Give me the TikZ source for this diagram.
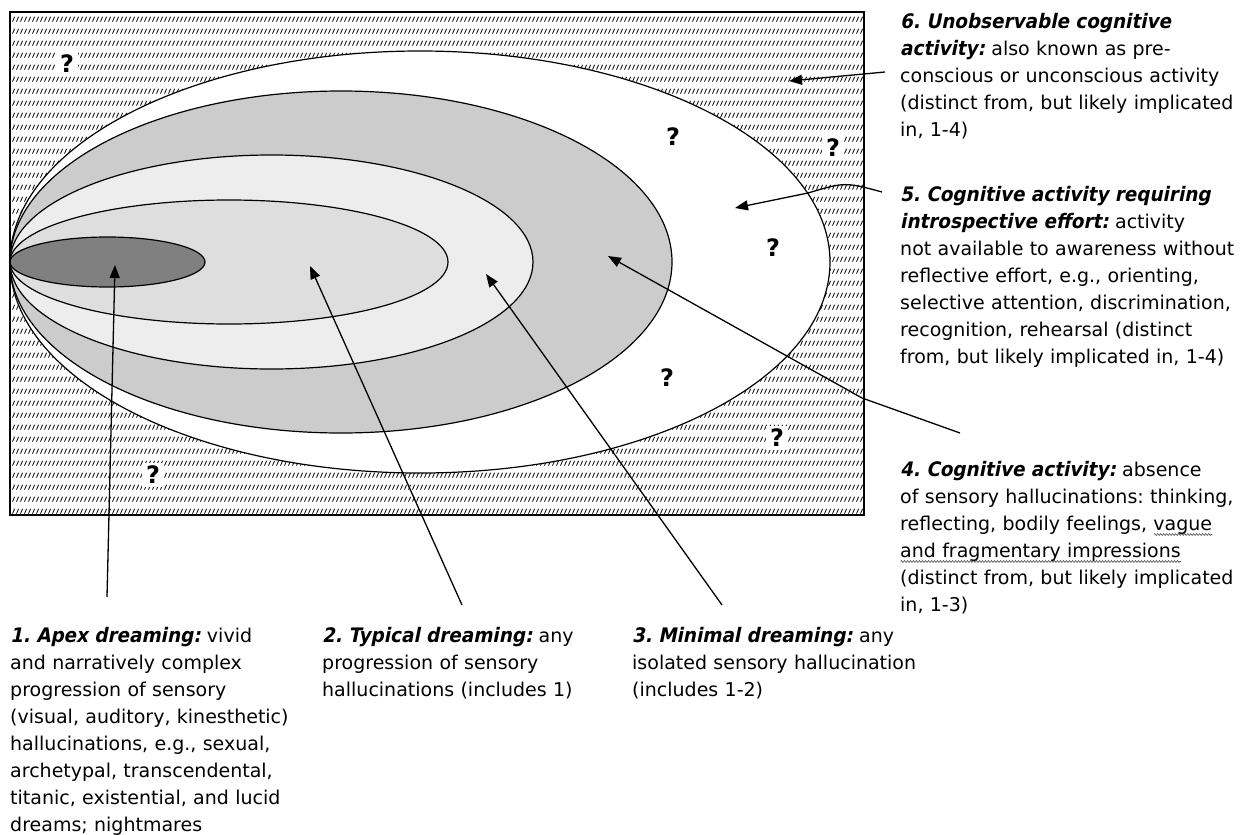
\documentclass[tikz,border=0pt]{standalone}
\usepackage{fontspec}
\setmainfont{DejaVu Sans}
\newfontfamily\headfont{DejaVu Sans}[FakeSlant=0.2, FakeStretch=0.92]
\usetikzlibrary{arrows.meta, patterns.meta, decorations.pathmorphing}

\tikzdeclarepattern{
  name=slashrows,
  type=uncolored,
  bounding box={(0pt,0pt) and (4.3pt,11.8pt)},
  tile size={(4.3pt,11.8pt)},
  code={
    \pgfsetlinewidth{0.9pt}
    \pgfpathmoveto{\pgfpoint{0.6pt}{3.5pt}}
    \pgfpathlineto{\pgfpoint{3.0pt}{8.3pt}}
    \pgfusepath{stroke}
  }
}

\frenchspacing
\newcommand{\hd}[1]{{\headfont\bfseries\fontsize{20}{27}\selectfont #1}}
\newsavebox{\wavybox}
\newcommand{\wavy}[1]{\leavevmode\sbox{\wavybox}{#1}\rlap{\tikz[baseline=0pt,x=1pt,y=1pt]\draw[black!70, line width=0.6pt, decorate, decoration={snake, amplitude=0.9pt, segment length=3pt}] (0,-3.5) -- (\wd\wavybox,-3.5);}\usebox{\wavybox}}

\begin{document}
\begin{tikzpicture}[x=1pt, y=-1pt,
  ring/.style={line width=1.2pt, draw=black},
  conn/.style={line width=1.3pt, -{Triangle[length=13pt,width=10pt]}},
  qmark/.style={font=\fontsize{24}{24}\selectfont\bfseries, inner sep=1pt},
  qhatch/.style={qmark, fill=white, inner xsep=4pt, inner ysep=3pt},
  txt/.style={anchor=north west, inner sep=0pt, align=left, text width=360pt,
              font=\fontsize{19}{27}\selectfont\frenchspacing}
]
\useasboundingbox (0,0) rectangle (1243,835);
\fill[white] (0,0) rectangle (1243,835);

% hatched frame
\path[pattern=slashrows, pattern color=black] (10,12) rectangle (864,515);

% nested ellipses
\draw[ring, fill=white]    (420,262)   ellipse [x radius=410pt,  y radius=211pt];
\draw[ring, fill=black!20] (341,262)   ellipse [x radius=331pt,  y radius=171pt];
\draw[ring, fill=black!7]  (271.5,262) ellipse [x radius=261.5pt, y radius=107pt];
\draw[ring, fill=black!13] (229,262)   ellipse [x radius=219pt,  y radius=62pt];
\draw[ring, fill=black!50] (107.5,262) ellipse [x radius=97.5pt, y radius=25pt];

\draw[line width=2.5pt] (10,12) rectangle (864,515);

% question marks
\node[qhatch] (q1) at (67,64) {?};
\node[qmark]  (q2) at (673,137) {?};
\node[qhatch] (q3) at (833,148) {?};
\node[qmark]  (q4) at (773,248) {?};
\node[qmark]  (q5) at (667,378) {?};
\node[qhatch] (q6) at (777,438) {?};
\node[qhatch] (q7) at (153,475) {?};

% text blocks
\node[txt] (t6) at (900,13.6) {\hd{6. Unobservable cognitive}\\
\hd{activity:} also known as pre-\\
conscious or unconscious activity\\
(distinct from, but likely implicated\\
in, 1-4)};

\node[txt] (t5) at (900,186.6) {\hd{5. Cognitive activity requiring}\\
\hd{introspective effort:} activity\\
not available to awareness without\\
reflective effort, e.g., orienting,\\
selective attention, discrimination,\\
recognition, rehearsal (distinct\\
from, but likely implicated in, 1-4)};

\node[txt] (t4) at (900,461.6) {\hd{4. Cognitive activity:} absence\\
of sensory hallucinations: thinking,\\
reflecting, bodily feelings, \wavy{vague}\\
\wavy{and fragmentary impressions}\\
(distinct from, but likely implicated\\
in, 1-3)};

\node[txt] (t1) at (10,626.6) {\hd{1. Apex dreaming:} vivid\\
and narratively complex\\
progression of sensory\\
(visual, auditory, kinesthetic)\\
hallucinations, e.g., sexual,\\
archetypal, transcendental,\\
titanic, existential, and lucid\\
dreams; nightmares};

\node[txt] (t2) at (322,626.6) {\hd{2. Typical dreaming:} any\\
progression of sensory\\
hallucinations (includes 1)};

\node[txt] (t3) at (632,626.6) {\hd{3. Minimal dreaming:} any\\
isolated sensory hallucination\\
(includes 1-2)};

% connectors
\coordinate (s6) at (885,72);   \coordinate (e6) at (789,81);
\coordinate (s5) at (882,192);  \coordinate (m5) at (808,193); \coordinate (e5) at (735,208);
\coordinate (s4) at (960,433);  \coordinate (m4) at (862,398); \coordinate (e4) at (608,256);
\coordinate (s1) at (107,597);  \coordinate (e1) at (115,265);
\coordinate (s2) at (462,605);  \coordinate (e2) at (310,266);
\coordinate (s3) at (722,605);  \coordinate (e3) at (486,274);

\draw[conn] (s6) -- (e6);
\draw[conn] (s5) .. controls (845,182) .. (m5) -- (e5);
\draw[conn] (s4) -- (m4) -- (e4);
\draw[conn] (s1) -- (e1);
\draw[conn] (s2) -- (e2);
\draw[conn] (s3) -- (e3);
\end{tikzpicture}
\end{document}
